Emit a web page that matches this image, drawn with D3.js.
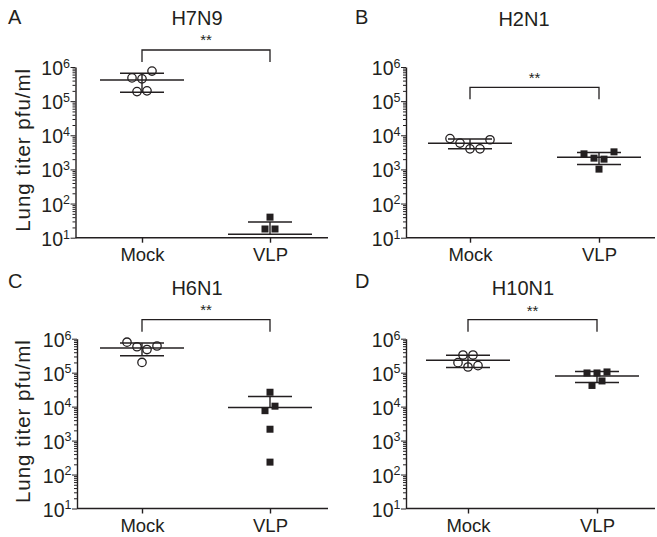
<!DOCTYPE html>
<html>
<head>
<meta charset="utf-8">
<script src="https://cdn.jsdelivr.net/npm/d3@7"></script>
<style>
  body { margin: 0; background: #fff; }
  text { font-family: "Liberation Sans", Arial, sans-serif; fill: #231f20; }
</style>
</head>
<body>
<svg id="chart" width="657" height="537"></svg>
<script>
// groups and labels
const groups = ["Mock", "VLP"];
const letters = ["A", "B", "C", "D"];
const strains = ["H7N9", "H2N1", "H6N1", "H10N1"];
const decades = [1e1, 1e2, 1e3, 1e4, 1e5, 1e6];
const stars = ["**", "**", "**", "**"];

// lung titer per mouse, pfu/ml (0 = below detection, not plotted)
const h7n9Mock = [480000, 450000, 760000, 190000, 200000];
const h7n9VLP = [40, 18, 18, 0, 0, 0];
const h2n1Mock = [8000, 5900, 4000, 4000, 7400];
const h2n1VLP = [2860, 2140, 2000, 3270, 1020];
const h6n1Mock = [790000, 580000, 480000, 610000, 200000];
const h6n1VLP = [26500, 7600, 10300, 2160, 232];
const h10n1Mock = [330000, 330000, 197000, 147000, 161000];
const h10n1VLP = [98000, 98000, 105000, 42000, 57000];

const seriesMock = [h7n9Mock, h2n1Mock, h6n1Mock, h10n1Mock];
const seriesVLP = [h7n9VLP, h2n1VLP, h6n1VLP, h10n1VLP];

// panel layout
const layout = [
  {ax: 75.5, x0: 142, x1: 270, right: 328, top: 67, bottom: 237.7, titleX: 197, titleY: 25, letterX: 8, letterY: 24, bracketY: 50, starY: 44.5, yTitle: true},
  {ax: 406, x0: 470, x1: 599, right: 655, top: 67, bottom: 237.7, titleX: 524, titleY: 26, letterX: 355, letterY: 24, bracketY: 87.3, starY: 83, yTitle: false},
  {ax: 77, x0: 142, x1: 270, right: 328, top: 338.7, bottom: 508.5, titleX: 197, titleY: 294.7, letterX: 8, letterY: 287.5, bracketY: 319.7, starY: 314.6, yTitle: true},
  {ax: 406, x0: 468, x1: 597, right: 655, top: 338.7, bottom: 508.5, titleX: 523, titleY: 294.7, letterX: 355, letterY: 288, bracketY: 319.7, starY: 316, yTitle: false}
];

const ink = "#231f20";
const svg = d3.select("#chart");

// spread points that sit at nearly the same height into centred rows
function spread(values, y, step, gap) {
  const pts = values.map((v, i) => ({v, i, y: y(v)})).filter(p => p.v > 0);
  const sorted = pts.slice().sort((a, b) => a.y - b.y);
  const rows = [];
  sorted.forEach((p, k) => {
    if (k === 0 || p.y - sorted[k - 1].y > gap) rows.push([]);
    rows[rows.length - 1].push(p);
  });
  rows.forEach(row => {
    row.sort((a, b) => a.i - b.i);
    row.forEach((p, j) => { p.dx = (j - (row.length - 1) / 2) * step; });
  });
  return pts;
}

layout.forEach((L, pi) => {
  const g = svg.append("g");
  const y = d3.scaleLog().domain([1e1, 1e6]).range([L.bottom, L.top]);
  const x = d3.scalePoint().domain(groups).range([L.x0, L.x1]);

  // y axis with minor log ticks
  const allTicks = [];
  decades.slice(0, -1).forEach(d => { for (let m = 1; m < 10; m++) allTicks.push(d * m); });
  allTicks.push(1e6);

  const yAxis = g.append("g")
    .attr("transform", `translate(${L.ax},0)`)
    .call(d3.axisLeft(y).tickValues(allTicks).tickFormat("").tickSizeOuter(0));
  yAxis.select(".domain").attr("stroke", ink).attr("stroke-width", 1.4);
  yAxis.selectAll(".tick line")
    .attr("stroke", ink).attr("stroke-width", 1)
    .attr("x2", d => decades.includes(d) ? -5 : -3);
  yAxis.selectAll(".tick")
    .filter(d => decades.includes(d))
    .append("text")
    .attr("x", -5.5).attr("y", 7.5)
    .attr("text-anchor", "end")
    .attr("font-size", 19.5)
    .attr("fill", ink)
    .text("10")
    .append("tspan")
    .attr("dy", -7.2)
    .attr("font-size", 12.5)
    .text(d => Math.round(Math.log10(d)));

  // x axis
  const xAxis = g.append("g")
    .attr("transform", `translate(0,${L.bottom})`)
    .call(d3.axisBottom(x).tickSize(5).tickSizeOuter(0));
  xAxis.select(".domain").attr("d", `M${L.ax},0H${L.right}`)
    .attr("stroke", ink).attr("stroke-width", 1.4);
  xAxis.selectAll(".tick line").attr("stroke", ink).attr("stroke-width", 1.4);
  xAxis.selectAll(".tick text")
    .attr("y", 23.5).attr("dy", null)
    .attr("font-size", 18.5).attr("fill", ink)
    .style("font-family", '"Liberation Sans", Arial, sans-serif');

  // titles
  g.append("text").attr("x", L.letterX).attr("y", L.letterY)
    .attr("font-size", 20).text(letters[pi]);
  g.append("text").attr("x", L.titleX).attr("y", L.titleY)
    .attr("text-anchor", "middle").attr("font-size", 20).text(strains[pi]);

  if (L.yTitle) {
    const cy = (L.top + L.bottom) / 2 - 2;
    g.append("text")
      .attr("transform", `translate(30,${cy}) rotate(-90)`)
      .attr("text-anchor", "middle")
      .attr("font-size", 20.5)
      .attr("textLength", 163).attr("lengthAdjust", "spacing")
      .text("Lung titer pfu/ml");
  }

  // significance bracket
  g.append("path")
    .attr("d", `M${x("Mock")},${L.bracketY + 12}V${L.bracketY}H${x("VLP")}V${L.bracketY + 12}`)
    .attr("fill", "none").attr("stroke", ink).attr("stroke-width", 1.3);
  g.append("text")
    .attr("x", (x("Mock") + x("VLP")) / 2).attr("y", L.starY)
    .attr("text-anchor", "middle").attr("font-size", 15).attr("fill", "#444")
    .text(stars[pi]);

  // mean and SD
  const sets = [seriesMock[pi], seriesVLP[pi]];
  sets.forEach((vals, gi) => {
    const cx = x(groups[gi]);
    const m = d3.mean(vals), sd = d3.deviation(vals);
    const hi = m + sd, lo = m - sd;
    const yLo = lo > 0 ? y(lo) : y(m);
    g.append("line").attr("x1", cx).attr("x2", cx)
      .attr("y1", y(hi)).attr("y2", yLo)
      .attr("stroke", ink).attr("stroke-width", 1.4);
    g.append("line").attr("x1", cx - 42).attr("x2", cx + 42)
      .attr("y1", y(m)).attr("y2", y(m))
      .attr("stroke", ink).attr("stroke-width", 1.5);
    g.append("line").attr("x1", cx - 22).attr("x2", cx + 22)
      .attr("y1", y(hi)).attr("y2", y(hi))
      .attr("stroke", ink).attr("stroke-width", 1.5);
    if (lo > 0) {
      g.append("line").attr("x1", cx - 22).attr("x2", cx + 22)
        .attr("y1", y(lo)).attr("y2", y(lo))
        .attr("stroke", ink).attr("stroke-width", 1.5);
    }

    const pts = spread(vals, y, 10, 7.2);
    if (gi === 0) {
      g.selectAll(null).data(pts).join("circle")
        .attr("cx", p => cx + p.dx).attr("cy", p => p.y)
        .attr("r", 4.2)
        .attr("fill", "none").attr("stroke", ink).attr("stroke-width", 1.3);
    } else {
      g.selectAll(null).data(pts).join("rect")
        .attr("x", p => cx + p.dx - 3.5).attr("y", p => p.y - 3.5)
        .attr("width", 7).attr("height", 7)
        .attr("fill", ink);
    }
  });
});
</script>
</body>
</html>
